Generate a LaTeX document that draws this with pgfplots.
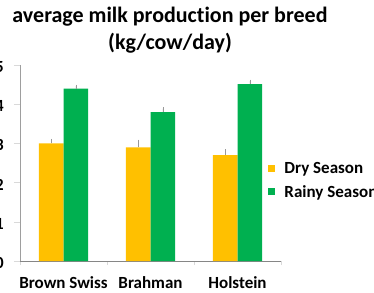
\documentclass[border=0pt]{standalone}
\usepackage{pgfplots}
\pgfplotsset{compat=1.18}
\usepackage{fontspec}
\setmainfont{Carlito}[Ligatures=NoCommon]
\definecolor{dryc}{HTML}{FFC000}
\definecolor{rainyc}{HTML}{00B050}
\definecolor{axgray}{HTML}{868686}
\definecolor{tickgray}{HTML}{D9D9D9}
\begin{document}
\begin{tikzpicture}[x=1pt,y=1pt]
\useasboundingbox (0,0) rectangle (374,292);
\node[anchor=base, font=\fontsize{22}{26}\selectfont\bfseries] at (170,269) {average milk production per breed};
\node[anchor=base, font=\fontsize{22}{26}\selectfont\bfseries] at (170,242.5) {(kg/cow/day)};
\begin{axis}[
  at={(20pt,31pt)}, anchor=south west,
  scale only axis, width=261pt, height=196pt,
  xmin=-0.5, xmax=2.5, ymin=0, ymax=5,
  ybar=0pt, bar width=24.7pt,
  axis x line*=bottom, axis y line*=left,
  x axis line style={axgray, line width=0.9pt, -},
  y axis line style={axgray!80, line width=0.6pt, -},
  xtick={0,1,2}, xticklabels={Brown Swiss, Brahman, Holstein},
  minor xtick={-0.5,0.5,1.5,2.5},
  major x tick style={draw=none},
  minor x tick style={tickgray, line width=0.8pt},
  minor tick length=4pt,
  ytick={0,1,2,3,4,5}, yticklabels={0,1,2,3,4,5},
  y tick style={tickgray, line width=0.6pt},
  major tick length=6pt,
  tick align=outside,
  xticklabel style={font=\fontsize{17}{20}\selectfont\bfseries, anchor=base, yshift=-21pt},
  yticklabel style={font=\fontsize{17}{20}\selectfont\bfseries, anchor=east, inner sep=0pt, xshift=-10pt, yshift=-2pt},
  legend style={draw=none, fill=none, at={(axis description cs:0.952,0.410)}, anchor=west,
    inner sep=0pt, outer sep=0pt, font=\fontsize{17}{20}\selectfont\bfseries,
    nodes={inner sep=0pt, anchor=west}, column sep=9pt, row sep=10pt},
  legend cell align=left,
  clip=false,
]
\addplot[fill=dryc, draw=none, legend image code/.code={\fill[dryc] (0pt,-3.5pt) rectangle (7pt,3.5pt);},
  error bars/.cd, y dir=plus, y explicit, error mark=-, error bar style={gray!80, line width=0.5pt}, error mark options={gray!80, mark size=1.5pt, line width=0.5pt}]
  coordinates {(0,3.00) +- (0,0.08) (1,2.90) +- (0,0.16) (2,2.70) +- (0,0.11)};
\addplot[fill=rainyc, draw=none, legend image code/.code={\fill[rainyc] (0pt,-3.5pt) rectangle (7pt,3.5pt);},
  error bars/.cd, y dir=plus, y explicit, error mark=-, error bar style={gray!80, line width=0.5pt}, error mark options={gray!80, mark size=1.5pt, line width=0.5pt}]
  coordinates {(0,4.40) +- (0,0.06) (1,3.80) +- (0,0.09) (2,4.51) +- (0,0.08)};
\legend{Dry Season, Rainy Season}
\end{axis}
\end{tikzpicture}
\end{document}
